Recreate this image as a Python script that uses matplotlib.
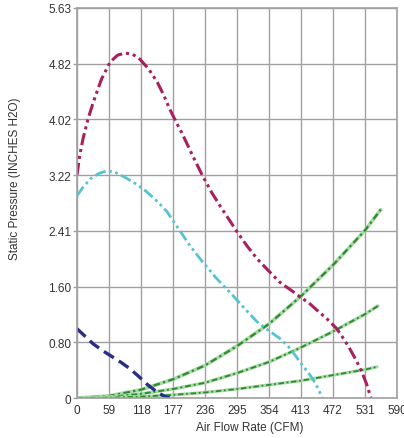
import matplotlib
matplotlib.use("Agg")
import matplotlib.pyplot as plt

plt.rcParams['font.family'] = ['Liberation Sans', 'DejaVu Sans']

# fan curves (CFM, inches H2O)
mag_x = [0, 5, 11, 20, 30, 45, 61, 75, 89, 103, 116, 132, 148, 160, 171, 183, 195, 213, 232,
         248, 264, 280, 295, 313, 332, 354, 374, 394, 413, 428, 442, 460, 479, 492, 503, 515,
         525, 534, 542]
mag_y = [3.22, 3.50, 3.74, 4.02, 4.27, 4.60, 4.85, 4.95, 4.98, 4.96, 4.89, 4.75, 4.56, 4.37,
         4.17, 3.98, 3.80, 3.50, 3.20, 2.97, 2.77, 2.58, 2.40, 2.20, 2.01, 1.83, 1.67, 1.56,
         1.45, 1.37, 1.27, 1.15, 1.00, 0.85, 0.71, 0.54, 0.38, 0.20, 0.0]

cyan_x = [0, 10, 24, 40, 55, 70, 85, 103, 122, 144, 166, 190, 210, 232, 258, 285, 308, 332,
          354, 374, 390, 402, 413, 425, 435, 445, 452]
cyan_y = [2.92, 3.03, 3.16, 3.24, 3.28, 3.26, 3.20, 3.12, 3.02, 2.87, 2.69, 2.41, 2.18, 1.96,
          1.72, 1.50, 1.30, 1.10, 0.97, 0.86, 0.74, 0.62, 0.50, 0.38, 0.27, 0.13, 0.0]

blue_x = [0, 15, 30, 48, 66, 82, 98, 114, 129, 142, 153, 163, 171]
blue_y = [1.00, 0.89, 0.78, 0.68, 0.59, 0.51, 0.42, 0.31, 0.20, 0.12, 0.06, 0.02, 0.0]

# system curves
sys1_x = [0, 59, 118, 177, 236, 295, 354, 413, 472, 531, 560]
sys1_y = [0, 0.03, 0.12, 0.27, 0.47, 0.75, 1.07, 1.47, 1.92, 2.42, 2.72]
sys2_x = [0, 59, 118, 177, 236, 295, 354, 413, 472, 531, 555]
sys2_y = [0, 0.015, 0.06, 0.13, 0.22, 0.36, 0.52, 0.73, 0.96, 1.21, 1.33]
sys3_x = [0, 59, 118, 177, 236, 295, 354, 413, 472, 531, 553]
sys3_y = [0, 0.005, 0.02, 0.045, 0.08, 0.13, 0.19, 0.25, 0.33, 0.41, 0.45]

xticks = [0, 59, 118, 177, 236, 295, 354, 413, 472, 531, 590]
yticks = [0, 0.804, 1.609, 2.413, 3.217, 4.021, 4.826, 5.63]
ylabels = ['0', '0.80', '1.60', '2.41', '3.22', '4.02', '4.82', '5.63']

fig = plt.figure(figsize=(4.04, 4.39), dpi=100)
ax = fig.add_axes([0.1906, 0.0911, 0.7921, 0.8884])

dashdotdot = (0, (4, 1.3, 1, 1.3, 1, 1.3))

#green system lines first so fan curves sit on top
for sx, sy, w in [(sys1_x, sys1_y, 1.6), (sys2_x, sys2_y, 1.4), (sys3_x, sys3_y, 1.3)]:
    ax.plot(sx, sy, color='#a6d9a6', lw=w + 1.0, solid_capstyle='round')
    ax.plot(sx, sy, color='#2f8a2f', lw=w, linestyle=(0, (3, 1.5, 1, 1.5)))

ax.plot(blue_x, blue_y, color='#2a2d86', lw=2.4, linestyle=(0, (3.5, 1.8)))
ax.plot(cyan_x, cyan_y, color='#55c4d2', lw=2.0, linestyle=dashdotdot)
ax.plot(mag_x, mag_y, color='#a8205f', lw=2.2, linestyle=dashdotdot)

ax.set_xlim(0, 590)
ax.set_ylim(0, 5.63)
ax.set_xticks(xticks)
ax.set_xticklabels([str(t) for t in xticks])
ax.set_yticks(yticks)
ax.set_yticklabels(ylabels)
ax.grid(True, color='#a0a0a0', lw=1.0)
ax.set_axisbelow(True)
for s in ax.spines.values():
    s.set_color('#a0a0a0')
    s.set_linewidth(1.2)
ax.tick_params(length=3, width=1, color='#a0a0a0', labelsize=8.5, colors='#333333', pad=1)
ax.tick_params(axis='x', length=0, pad=4)
ax.tick_params(axis='y', colors='#a0a0a0', labelcolor='#333333')

ax.set_xlabel('Air Flow Rate (CFM)', fontsize=8.5, color='#333333')
ax.set_ylabel('Static Pressure (INCHES H2O)', fontsize=8.5, color='#333333')
ax.xaxis.set_label_coords(0.54, -0.06)
ax.yaxis.set_label_coords(-0.175, 0.565)

fig.savefig('out.png', dpi=100)
